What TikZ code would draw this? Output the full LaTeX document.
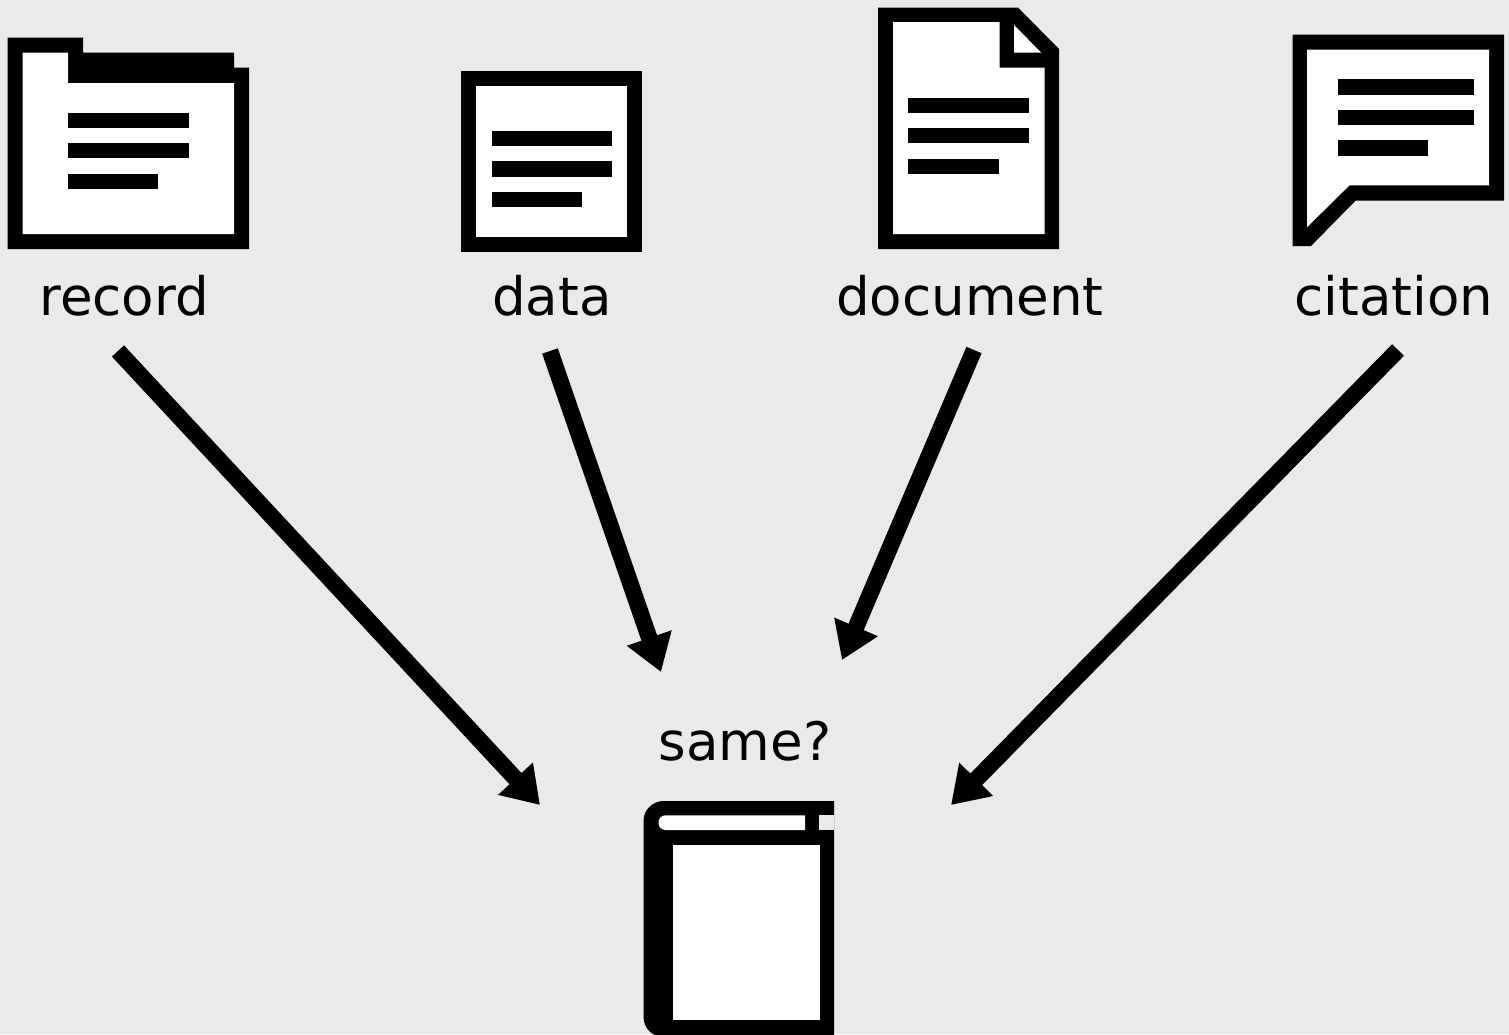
\documentclass[tikz,border=0pt]{standalone}
\usepackage{amsmath}
\usepackage{amssymb}
\usepackage{fontspec}
\setmainfont{DejaVu Sans}
\usetikzlibrary{arrows.meta}
\definecolor{backdrop}{HTML}{EAEAEA}

\begin{document}
\begin{tikzpicture}[x=1pt, y=-1pt]
			\tikzstyle{ink} = [fill=black]
			\tikzstyle{paper} = [fill=white]
			\tikzstyle{gap} = [fill=backdrop]
			\tikzstyle{caption} = [anchor=base, inner sep=0pt, font=\fontsize{53}{60}\selectfont]
			\tikzstyle{flow} = [line width=16.5pt, -{Triangle[length=36pt, width=45pt]}]

			\useasboundingbox (0,0) rectangle (1509,1034);
			\fill [gap] (0,0) rectangle (1509,1034);

			\fill [ink] (7.5,37.5) -- (83,37.5) -- (83,52.5) -- (234,52.5) -- (234,67.5) -- (249,67.5) -- (249,249) -- (7.5,249) -- cycle;
			\fill [paper] (22.5,52.5) -- (68,52.5) -- (68,83) -- (234,83) -- (234,234) -- (22.5,234) -- cycle;
			\fill [ink] (68,113) rectangle (188.5,128);
			\fill [ink] (68,143) rectangle (188.5,158);
			\fill [ink] (68,173.5) rectangle (158,188.5);
			\node [caption] (record) at (124,315) {record};

			\fill [ink] (461,70.5) rectangle (642,252);
			\fill [paper] (476,85.5) rectangle (627,237);
			\fill [ink] (491.5,131) rectangle (612,146);
			\fill [ink] (491.5,161) rectangle (612,176.5);
			\fill [ink] (491.5,192) rectangle (582,207);
			\node [caption] (data) at (552,315) {data};

			\fill [ink] (878,7.5) -- (1018,7.5) -- (1059,49) -- (1059,249) -- (878,249) -- cycle;
			\fill [paper] (893,22) -- (999.5,22) -- (999.5,67.5) -- (1044.5,67.5) -- (1044.5,234) -- (893,234) -- cycle;
			\fill [paper] (1014,25) -- (1014,52.5) -- (1041,52.5) -- cycle;
			\fill [ink] (908,98) rectangle (1029,113);
			\fill [ink] (908,128) rectangle (1029,143);
			\fill [ink] (908,158.5) rectangle (999,173.5);
			\node [caption] (document) at (970,315) {document};

			\fill [ink] (1292.5,34.5) -- (1504,34.5) -- (1504,200.5) -- (1355.7,200.5) -- (1311,246) -- (1292.5,246) -- cycle;
			\fill [paper] (1307,49.5) -- (1489,49.5) -- (1489,185.3) -- (1349.5,185.3) -- (1307,227.3) -- cycle;
			\fill [ink] (1338,79.3) rectangle (1473.7,94.7);
			\fill [ink] (1338,110) rectangle (1473.7,125);
			\fill [ink] (1338,140.3) rectangle (1428,155.7);
			\node [caption] (citation) at (1394,315) {citation};

			\node [caption] (same) at (745,760) {same?};

			\fill [ink] (834,801) [rounded corners=20pt] -- (643.5,801) -- (643.5,1037) [sharp corners] -- (834,1037) -- cycle;
			\fill [paper] (805,815.3) [rounded corners=7pt] -- (658.5,815.3) -- (658.5,830) [sharp corners] -- (805,830) -- cycle;
			\fill [gap] (819.3,815.3) rectangle (834,830);
			\fill [paper] (673,845) rectangle (819.7,1020.3);

			\coordinate (recordtail) at (118,351);
			\coordinate (datatail) at (550,351);
			\coordinate (documenttail) at (974,350);
			\coordinate (citationtail) at (1398,350);
			\coordinate (recordtip) at (540,805);
			\coordinate (datatip) at (661,672);
			\coordinate (documenttip) at (842,660);
			\coordinate (citationtip) at (951,805);

			\draw [flow] (recordtail) -- (recordtip);
			\draw [flow] (datatail) -- (datatip);
			\draw [flow] (documenttail) -- (documenttip);
			\draw [flow] (citationtail) -- (citationtip);
\end{tikzpicture}
\end{document}
